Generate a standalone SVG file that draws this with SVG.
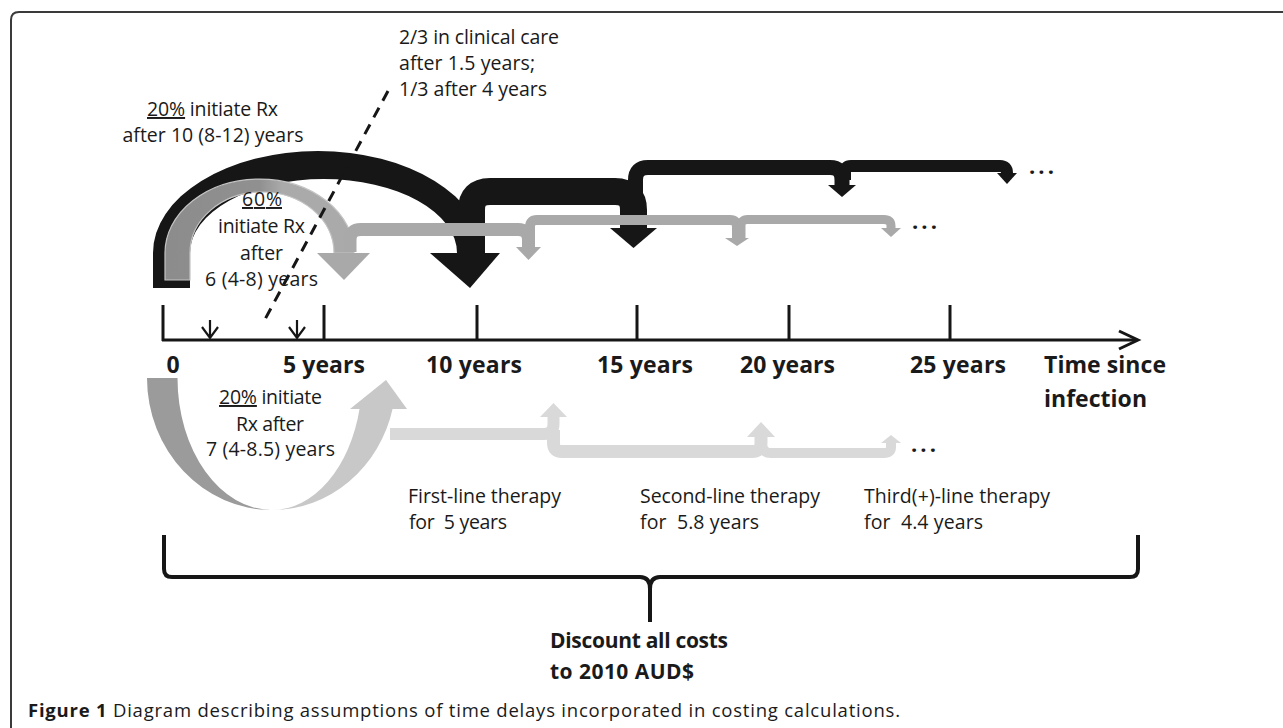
<svg xmlns="http://www.w3.org/2000/svg" width="1283" height="728" viewBox="0 0 1283 728">
<defs>
<style>
.t{font-family:"Open Sans","Liberation Sans",sans-serif;fill:#1a1a1a}
.r{font-size:19.5px}
.b{font-weight:bold}
.ax{font-size:23px;font-weight:bold}
.u{text-decoration:underline}
.blk{fill:#161616}
.blks{fill:none;stroke:#161616}
.gry{fill:#a9a9a9}
.grys{fill:none;stroke:#a9a9a9}
.lgt{fill:#d9d9d9}
.lgts{fill:none;stroke:#d9d9d9}
.axis{stroke:#161616;stroke-width:3;fill:none}
</style>
<linearGradient id="g60" gradientUnits="userSpaceOnUse" x1="165" y1="0" x2="354" y2="0">
<stop offset="0" stop-color="#8c8c8c"/><stop offset="0.5" stop-color="#909090"/><stop offset="0.62" stop-color="#aaaaaa"/><stop offset="1" stop-color="#aaaaaa"/>
</linearGradient>
</defs>
<rect width="1283" height="728" fill="#ffffff"/>
<path id="frame" d="M11 728 V20 Q11 12 19 12 H1283" fill="none" stroke="#3a3a3a" stroke-width="2"/>

<g id="timeline">
<path class="axis" d="M162 340 H1137"/>
<path class="axis" d="M1119 331 L1138 340 L1119 349"/>
<path class="axis" d="M163 305V341 M324 305V341 M477 305V341 M637 305V341 M789 305V341 M950 305V341"/>
<path d="M210 320V337 M202 327 L210 338 L218 327 M297 320V337 M289 327 L297 338 L305 327" stroke="#161616" stroke-width="2.2" fill="none"/>
<text class="t ax" x="173" y="373" text-anchor="middle">0</text>
<text class="t ax" x="283" y="373" textLength="82">5 years</text>
<text class="t ax" x="426" y="373" textLength="96">10 years</text>
<text class="t ax" x="597" y="373" textLength="96">15 years</text>
<text class="t ax" x="740" y="373" textLength="95">20 years</text>
<text class="t ax" x="910" y="373" textLength="96">25 years</text>
<text class="t ax" x="1044" y="373" textLength="122">Time since</text>
<text class="t ax" x="1044" y="407" textLength="103">infection</text>
</g>

<g id="connectors">
<g id="black-arrows">
<path class="blk" d="M153 288 V253 A165 102 0 0 1 483 253 H457 A133.5 74 0 0 0 190 253 V288 Z"/>
<polygon class="blk" points="430,253 500,253 470,288"/>
<path class="blks" stroke-width="27" d="M471.5 255 V210 Q471.5 191.5 490 191.5 H615 Q633.5 191.5 633.5 210 V229"/>
<polygon class="blk" points="610,228 657,228 633.5,248"/>
<path class="blks" stroke-width="15" d="M635.5 215 V180 Q635.5 167.5 648 167.5 H830 Q842 167.5 842 180 V186"/>
<polygon class="blk" points="828,185 856,185 842,197"/>
<path class="blks" stroke-width="12" d="M845 180 V172 Q845 166 851 166 H1000 Q1007 166 1007 173 V174"/>
<polygon class="blk" points="997,173 1017,173 1007,184"/>
</g>
<g id="grey-arrows">
<path fill="url(#g60)" stroke="#c4c4c4" stroke-width="1.2" d="M165 280 V253 A94.5 74 0 0 1 354 253 H334 A72 61 0 0 0 190 253 V280 Z"/>
<polygon class="gry" points="317,253 370,253 344,280"/>
<path class="grys" stroke-width="13" d="M350 252 V240 Q350 229.5 361 229.5 H518 Q528.5 229.5 528.5 240 V248"/>
<polygon class="gry" points="516,247 541,247 528.5,260"/>
<path class="grys" stroke-width="10" d="M530 246 V227 Q530 220 537 220 H730 Q737 220 737 227 V239"/>
<polygon class="gry" points="725,238 749,238 737,246"/>
<path class="grys" stroke-width="9" d="M741 238 V226 Q741 219.5 747.5 219.5 H884 Q891 219.5 891 226 V229"/>
<polygon class="gry" points="881,228 901,228 891,237"/>
</g>
<g id="lower-arrows">
<path fill="#9b9b9b" d="M147 378 A125 132 0 0 0 272 510 A94.5 132 0 0 1 177.5 378 Z"/>
<path fill="#c8c8c8" d="M272 510 A124 132 0 0 0 392.8 408 H359.7 A90 132 0 0 1 272 510 Z"/>
<polygon fill="#c8c8c8" points="350,409 407,409 386,380"/>
<path class="lgts" stroke-width="12" d="M390 434 H544 Q553.5 434 553.5 424 V417"/>
<polygon class="lgt" points="540,417 567,417 553.5,403"/>
<path class="lgts" stroke-width="13" d="M553.5 430 V443 Q553.5 451.5 562 451.5 H752 Q761 451.5 761 443 V437"/>
<polygon class="lgt" points="747,437 775,437 761,422"/>
<path class="lgts" stroke-width="10" d="M762 445 Q763 453 771 453 H884 Q891 453 891 447 V443"/>
<polygon class="lgt" points="881,443 901,443 891,435"/>
</g>
<path id="dashed" d="M388 91 L263 323" stroke="#161616" stroke-width="3" stroke-dasharray="11 8" fill="none"/>
<path id="brace" d="M164 535 V569 Q164 577 172 577 H640 Q650 577 650 589 V622 M650 589 Q650 577 660 577 H1130 Q1138 577 1138 569 V535" stroke="#161616" stroke-width="4" fill="none"/>
</g>

<g id="clinical-care">
<text class="t r" x="399" y="44" textLength="160">2/3 in clinical care</text>
<text class="t r" x="399" y="70" textLength="136">after 1.5 years;</text>
<text class="t r" x="399" y="96" textLength="148">1/3 after 4 years</text>
</g>
<g id="label-20-top">
<text class="t r" x="147" y="116" textLength="131"><tspan class="u">20%</tspan> initiate Rx</text>
<text class="t r" x="213" y="142" text-anchor="middle" textLength="181">after 10 (8-12) years</text>
</g>
<g id="label-60">
<text class="t r u" x="262" y="206" text-anchor="middle" textLength="40">60%</text>
<text class="t r" x="261.5" y="233" text-anchor="middle" textLength="87">initiate Rx</text>
<text class="t r" x="261.5" y="260" text-anchor="middle" textLength="43">after</text>
<text class="t r" x="261.5" y="286" text-anchor="middle" textLength="113">6 (4-8) years</text>
</g>
<g id="label-20-bottom">
<text class="t r" x="219" y="404" textLength="103"><tspan class="u">20%</tspan> initiate</text>
<text class="t r" x="270" y="431" text-anchor="middle" textLength="68">Rx after</text>
<text class="t r" x="270.5" y="456" text-anchor="middle" textLength="129">7 (4-8.5) years</text>
</g>
<g id="therapy-1">
<text class="t r" x="408" y="503" textLength="153">First-line therapy</text>
<text class="t r" x="409" y="529" xml:space="preserve" textLength="98">for  5 years</text>
</g>
<g id="therapy-2">
<text class="t r" x="640" y="503" textLength="180">Second-line therapy</text>
<text class="t r" x="640" y="529" xml:space="preserve" textLength="119">for  5.8 years</text>
</g>
<g id="therapy-3">
<text class="t r" x="864" y="503" textLength="186">Third(+)-line therapy</text>
<text class="t r" x="864" y="529" xml:space="preserve" textLength="119">for  4.4 years</text>
</g>
<g id="ellipses">
<text class="t b" x="1029" y="174" font-size="22" textLength="25">...</text>
<text class="t b" x="912" y="229" font-size="22" textLength="25">...</text>
<text class="t b" x="911" y="452" font-size="22" textLength="25">...</text>
</g>
<g id="discount">
<text class="t b" x="550" y="648" font-size="21" textLength="178">Discount all costs</text>
<text class="t b" x="550" y="679" font-size="21" textLength="144">to 2010 AUD$</text>
</g>
<text id="caption" class="t" x="28" y="717" font-size="18.5" textLength="872"><tspan font-weight="bold">Figure 1</tspan> Diagram describing assumptions of time delays incorporated in costing calculations.</text>
</svg>
